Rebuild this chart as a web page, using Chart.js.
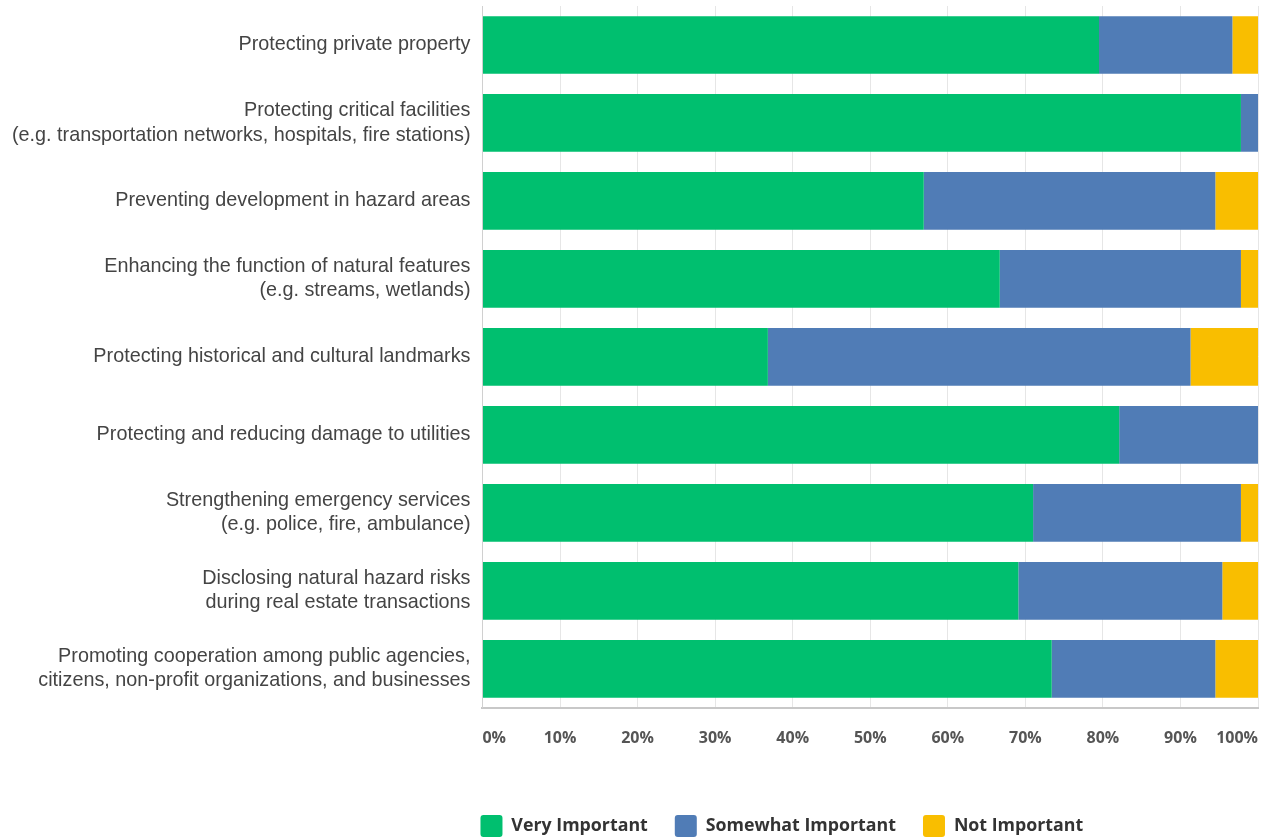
<!DOCTYPE html>
<html>
<head>
<meta charset="utf-8">
<script src="https://cdn.jsdelivr.net/npm/chart.js@4/dist/chart.umd.min.js"></script>
<style>
  html, body { margin: 0; padding: 0; background: #fff; }
  #wrap { width: 1271px; height: 838px; }
</style>
</head>
<body>
<div id="wrap"><canvas id="chart"></canvas></div>
<script>
// categories (multi-line labels)
const categories = [
  ['Protecting private property'],
  ['Protecting critical facilities', '(e.g. transportation networks, hospitals, fire stations)'],
  ['Preventing development in hazard areas'],
  ['Enhancing the function of natural features', '(e.g. streams, wetlands)'],
  ['Protecting historical and cultural landmarks'],
  ['Protecting and reducing damage to utilities'],
  ['Strengthening emergency services', '(e.g. police, fire, ambulance)'],
  ['Disclosing natural hazard risks', 'during real estate transactions'],
  ['Promoting cooperation among public agencies,', 'citizens, non-profit organizations, and businesses'],
];

const veryImportant     = [79.5, 97.8, 56.9, 66.7, 36.8, 82.1, 71.0, 69.1, 73.4];
const somewhatImportant = [17.2,  2.2, 37.6, 31.1, 54.5, 17.9, 26.8, 26.3, 21.1];
const notImportant      = [ 3.3,  0.0,  5.5,  2.2,  8.7,  0.0,  2.2,  4.6,  5.5];

const seriesNames = ['Very Important', 'Somewhat Important', 'Not Important'];
const seriesColors = ['#00BF6F', '#507CB6', '#F9BE00'];

const xTicks = [0, 10, 20, 30, 40, 50, 60, 70, 80, 90, 100];

const labelFont = "'Liberation Sans', Arial, sans-serif";
const boldFont = "'Open Sans', Roboto, sans-serif";

const datasets = [veryImportant, somewhatImportant, notImportant].map((vals, i) => ({
  label: seriesNames[i],
  data: vals,
  backgroundColor: seriesColors[i],
  borderWidth: 0,
  barPercentage: 0.74,
  categoryPercentage: 1,
}));

// legend sits lower and starts flush with the plot's left edge
const legendTweak = {
  id: 'legendTweak',
  afterInit(chart) {
    const lg = chart.legend;
    const fit = lg.fit.bind(lg);
    lg.fit = function () { fit(); this.height -= 9; };
  },
  afterLayout(chart) {
    const lg = chart.legend;
    lg.left -= 29;
    lg.right -= 29;
  },
};

new Chart(document.getElementById('chart'), {
  type: 'bar',
  data: { labels: categories, datasets },
  plugins: [legendTweak],
  options: {
    indexAxis: 'y',
    responsive: true,
    maintainAspectRatio: false,
    animation: false,
    layout: { padding: { top: 6, right: 13, left: 0, bottom: 0 } },
    plugins: {
      tooltip: { enabled: false },
      legend: {
        position: 'bottom',
        align: 'start',
        fullSize: false,
        labels: {
          boxWidth: 22,
          boxHeight: 22,
          padding: 27,
          color: '#333',
          font: { size: 17.8, weight: 'bold', family: boldFont },
          generateLabels: (chart) => chart.data.datasets.map((ds, i) => ({
            text: ds.label,
            fillStyle: ds.backgroundColor,
            strokeStyle: ds.backgroundColor,
            lineWidth: 0,
            borderRadius: 3,
            fontColor: '#333',
            datasetIndex: i,
          })),
        },
      },
    },
    scales: {
      x: {
        stacked: true,
        min: 0,
        max: 100,
        afterBuildTicks: (scale) => { scale.ticks = xTicks.map(v => ({ value: v })); },
        afterFit: (scale) => {
          scale.height += 19;
          scale.paddingLeft = 0;
          scale.paddingRight = 0;
        },
        grid: { color: '#e6e6e6', lineWidth: 1, drawTicks: false },
        border: { color: '#c8c8c8', width: 2 },
        ticks: {
          padding: 21,
          align: 'inner',
          color: '#555',
          font: { size: 16, weight: 'bold', family: boldFont },
          callback: (v) => v + '%',
        },
      },
      y: {
        stacked: true,
        afterFit: (scale) => { scale.paddingTop = 0; scale.paddingBottom = 0; },
        grid: { display: false, drawTicks: false },
        border: { color: '#d0d0d0', width: 1 },
        ticks: {
          padding: 12,
          color: '#444',
          font: { size: 19.8, family: labelFont, lineHeight: 1.22 },
        },
      },
    },
  },
});
</script>
</body>
</html>
